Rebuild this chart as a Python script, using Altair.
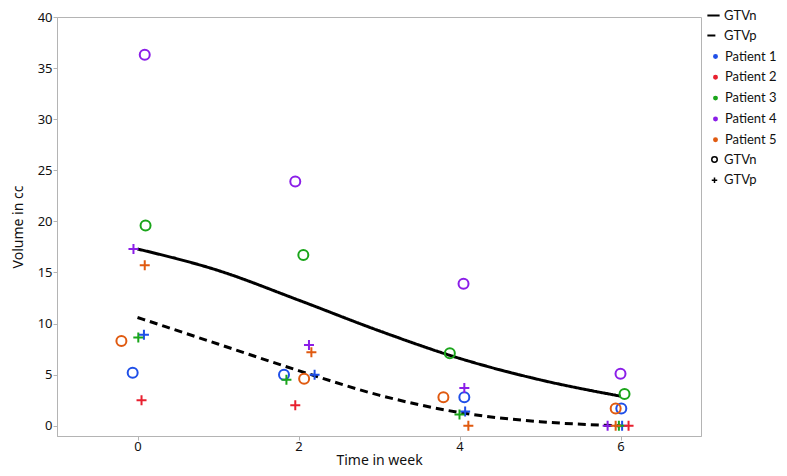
import altair as alt
import pandas as pd

FONT = "Noto Sans"
LFONT = "Lato"

patients = ["Patient 1", "Patient 2", "Patient 3", "Patient 4", "Patient 5"]
colors = ["#1f4fe8", "#e8202f", "#1aa51a", "#8b1ee8", "#e05a10"]

# GTVn measurements (open circles)
gtvn_patient = ["Patient 1"] * 4 + ["Patient 3"] * 4 + ["Patient 4"] * 4 + ["Patient 5"] * 4
gtvn_week = [-0.06, 1.82, 4.06, 6.01,
             0.10, 2.06, 3.88, 6.05,
             0.09, 1.96, 4.05, 6.00,
             -0.20, 2.07, 3.80, 5.94]
gtvn_volume = [5.2, 5.0, 2.8, 1.7,
               19.6, 16.7, 7.1, 3.1,
               36.3, 23.9, 13.9, 5.1,
               8.3, 4.6, 2.8, 1.7]

# GTVp measurements (plus signs)
gtvp_patient = (["Patient 1"] * 4 + ["Patient 2"] * 3 + ["Patient 3"] * 4
                + ["Patient 4"] * 4 + ["Patient 5"] * 4)
gtvp_week = [0.08, 2.20, 4.07, 6.02,
             0.05, 1.96, 6.10,
             0.01, 1.85, 4.00, 5.98,
             -0.05, 2.13, 4.06, 5.84,
             0.09, 2.16, 4.11, 5.94]
gtvp_volume = [8.9, 5.0, 1.4, 0.0,
               2.5, 2.0, 0.0,
               8.65, 4.5, 1.1, 0.0,
               17.3, 7.9, 3.7, 0.0,
               15.7, 7.2, 0.0, 0.0]

# fitted curves
fit_week = [0, 1, 2, 3, 4, 5, 6]
fit_gtvn = [17.3, 15.2, 12.3, 9.3, 6.6, 4.5, 2.9]
fit_gtvp = [10.6, 8.0, 5.4, 3.0, 1.3, 0.4, 0.0]

types = ["GTVn", "GTVp"]
curves = ["GTVn fit", "GTVp fit"]
PLUS = "M-1,0L1,0M0,-1L0,1"

pts = pd.DataFrame({
    "patient": gtvn_patient + gtvp_patient,
    "week": gtvn_week + gtvp_week,
    "volume": gtvn_volume + gtvp_volume,
    "type": ["GTVn"] * len(gtvn_week) + ["GTVp"] * len(gtvp_week),
})
fit = pd.DataFrame({
    "week": fit_week + fit_week,
    "volume": fit_gtvn + fit_gtvp,
    "curve": [curves[0]] * len(fit_week) + [curves[1]] * len(fit_week),
})

xscale = alt.Scale(domain=[-1, 7], nice=False, zero=False)
yscale = alt.Scale(domain=[-1, 40], nice=False, zero=False)

LX = 649

lines = alt.Chart(fit).mark_line(interpolate="monotone", strokeWidth=3, color="black").encode(
    x=alt.X("week:Q", scale=xscale,
            axis=alt.Axis(values=[0, 2, 4, 6], format="d", title="Time in week")),
    y=alt.Y("volume:Q", scale=yscale,
            axis=alt.Axis(values=list(range(0, 41, 5)), format="d", title="Volume in cc")),
    strokeDash=alt.StrokeDash(
        "curve:N",
        scale=alt.Scale(domain=curves, range=[[1, 0], [8, 5]]),
        legend=alt.Legend(orient="none", legendX=LX, legendY=-9, title=None,
                          labelExpr="replace(datum.label, ' fit', '')",
                          rowPadding=5,
                          symbolType="stroke", symbolSize=150, symbolStrokeWidth=2,
                          symbolStrokeColor="black"),
    ),
)

points = alt.Chart(pts).mark_point(filled=False, size=100, strokeWidth=2, opacity=1).encode(
    x=alt.X("week:Q", scale=xscale),
    y=alt.Y("volume:Q", scale=yscale),
    color=alt.Color(
        "patient:N",
        scale=alt.Scale(domain=patients, range=colors),
        legend=alt.Legend(orient="none", legendX=LX + 3, legendY=33, title=None,
                          symbolType="circle", symbolSize=6, symbolStrokeWidth=2.5),
    ),
    shape=alt.Shape(
        "type:N",
        scale=alt.Scale(domain=types, range=["circle", PLUS]),
        legend=alt.Legend(orient="none", legendX=LX + 2, legendY=136, title=None,
                          symbolSize=30, symbolStrokeWidth=1.5,
                          symbolStrokeColor="black", symbolFillColor="transparent"),
    ),
)

chart = alt.layer(lines, points).properties(
    width=644,
    height=419,
    padding={"left": 49, "top": 9, "right": 78, "bottom": 31},
    autosize=alt.AutoSizeParams(type="none"),
).configure_view(
    stroke="#b4b4b4", strokeWidth=1
).configure_axis(
    grid=False,
    domainColor="#b4b4b4",
    tickColor="#b4b4b4",
    tickSize=4,
    labelFont=FONT,
    labelFontSize=13,
    labelColor="#111111",
    labelPadding=1,
    titleFont=FONT,
    titleFontSize=14,
    titleFontWeight="normal",
    titleColor="#111111",
).configure_axisY(
    titlePadding=12,
).configure_axisX(
    labelPadding=0,
    titleBaseline="alphabetic",
    titleY=28,
).configure_legend(
    labelFont=LFONT,
    labelFontSize=13,
    labelColor="#111111",
    padding=0,
    rowPadding=6.8,
    labelOffset=3,
)

chart.save("out.html", embed_options={"renderer": "svg", "actions": False})
